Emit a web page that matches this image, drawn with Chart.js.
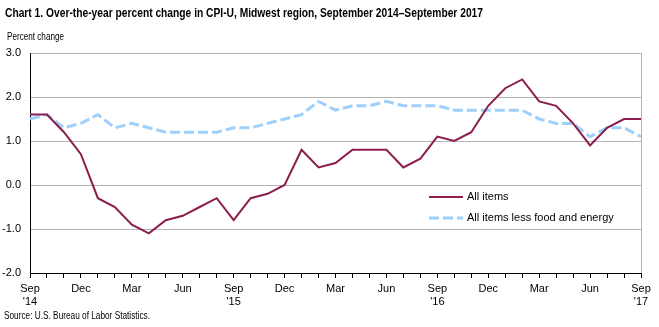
<!DOCTYPE html>
<html>
<head>
<meta charset="utf-8">
<script src="https://cdn.jsdelivr.net/npm/chart.js@4.4.0/dist/chart.umd.min.js"></script>
<style>
  body { margin: 0; background: #fff; }
  #wrap { position: relative; width: 659px; height: 327px; overflow: hidden; }
  #wrap canvas { position: absolute; left: 0; top: 0; }
  .txt { position: absolute; white-space: nowrap; transform-origin: 0 0; font-family: "Liberation Sans", Arial, sans-serif; color: #000; }
  #title { left: 5px; top: 5px; font-size: 13px; font-weight: bold; }
  #unit { left: 7px; top: 30px; font-size: 11px; }
  #source { left: 4px; top: 309px; font-size: 11px; }
</style>
</head>
<body>
<div id="wrap">
  <canvas id="lineChart" width="659" height="327"></canvas>
  <div class="txt" id="title" data-w="478">Chart 1. Over-the-year percent change in CPI-U, Midwest region, September 2014–September 2017</div>
  <div class="txt" id="unit" data-w="57">Percent change</div>
  <div class="txt" id="source" data-w="146">Source: U.S. Bureau of Labor Statistics.</div>
</div>
<script>
const categories = [
  "Sep 2014", "Oct 2014", "Nov 2014", "Dec 2014", "Jan 2015", "Feb 2015", "Mar 2015",
  "Apr 2015", "May 2015", "Jun 2015", "Jul 2015", "Aug 2015", "Sep 2015", "Oct 2015",
  "Nov 2015", "Dec 2015", "Jan 2016", "Feb 2016", "Mar 2016", "Apr 2016", "May 2016",
  "Jun 2016", "Jul 2016", "Aug 2016", "Sep 2016", "Oct 2016", "Nov 2016", "Dec 2016",
  "Jan 2017", "Feb 2017", "Mar 2017", "Apr 2017", "May 2017", "Jun 2017", "Jul 2017",
  "Aug 2017", "Sep 2017",
];

const allItems = [
  1.6, 1.6, 1.2, 0.7, -0.3, -0.5, -0.9, -1.1, -0.8, -0.7, -0.5, -0.3, -0.8,
  -0.3, -0.2, 0.0, 0.8, 0.4, 0.5, 0.8, 0.8, 0.8, 0.4, 0.6, 1.1,
  1.0, 1.2, 1.8, 2.2, 2.4, 1.9, 1.8, 1.4, 0.9, 1.3, 1.5, 1.5,
];

const lessFoodEnergy = [
  1.5, 1.6, 1.3, 1.4, 1.6, 1.3, 1.4, 1.3, 1.2, 1.2, 1.2, 1.2, 1.3,
  1.3, 1.4, 1.5, 1.6, 1.9, 1.7, 1.8, 1.8, 1.9, 1.8, 1.8, 1.8,
  1.7, 1.7, 1.7, 1.7, 1.7, 1.5, 1.4, 1.4, 1.1, 1.3, 1.3, 1.1,
];

const yTicks = [-2, -1, 0, 1, 2, 3];
const tickMonths = ["Sep", "Dec", "Mar", "Jun"];

// squeeze the html text to the narrow look of the original
document.querySelectorAll(".txt").forEach((el) => {
  const w = el.getBoundingClientRect().width;
  el.style.transform = "scaleX(" + (parseFloat(el.dataset.w) / w) + ")";
});

const FONT = "'Liberation Sans Narrow', 'Liberation Sans', Arial, sans-serif";

// right border of the plot + legend inside the plot
const framePlugin = {
  id: "frame",
  afterDraw(chart) {
    const { ctx, chartArea } = chart;
    ctx.save();
    ctx.strokeStyle = "#b4b4b4";
    ctx.lineWidth = 1;
    ctx.beginPath();
    ctx.moveTo(Math.round(chartArea.right) + 0.5, chartArea.top);
    ctx.lineTo(Math.round(chartArea.right) + 0.5, chartArea.bottom);
    ctx.stroke();

    let y = 197;
    chart.data.datasets.forEach((ds) => {
      ctx.strokeStyle = ds.borderColor;
      ctx.lineWidth = ds.borderWidth;
      ctx.setLineDash(ds.borderDash || []);
      ctx.beginPath();
      ctx.moveTo(429, y);
      ctx.lineTo(463, y);
      ctx.stroke();
      ctx.setLineDash([]);
      ctx.fillStyle = "#000";
      ctx.font = "11px " + FONT;
      ctx.textBaseline = "middle";
      ctx.fillText(ds.label, 467, y);
      y += 21;
    });
    ctx.restore();
  },
};

const ctx = document.getElementById("lineChart").getContext("2d");

new Chart(ctx, {
  type: "line",
  data: {
    labels: categories,
    datasets: [
      {
        label: "All items",
        data: allItems,
        borderColor: "#8c1d4f",
        borderWidth: 2,
        pointRadius: 0,
        tension: 0,
      },
      {
        label: "All items less food and energy",
        data: lessFoodEnergy,
        borderColor: "#9fd0fb",
        borderWidth: 3,
        borderDash: [10, 4],
        pointRadius: 0,
        tension: 0,
      },
    ],
  },
  options: {
    responsive: false,
    animation: false,
    layout: { padding: { top: 53, right: 18, left: 0, bottom: 0 } },
    scales: {
      x: {
        offset: false,
        afterFit: (scale) => { scale.height = 54; },
        grid: {
          drawOnChartArea: false,
          drawTicks: true,
          tickLength: 5,
          color: "#000",
        },
        border: { color: "#000", width: 1 },
        ticks: {
          autoSkip: false,
          maxRotation: 0,
          padding: 4,
          color: "#000",
          font: { size: 11, family: FONT },
          callback: function (value, index) {
            const [mon, yr] = categories[index].split(" ");
            if (!tickMonths.includes(mon) || index % 3 !== 0) return "";
            return mon === "Sep" ? [mon, "'" + yr.slice(2)] : mon;
          },
        },
      },
      y: {
        min: yTicks[0],
        max: yTicks[yTicks.length - 1],
        afterFit: (scale) => { scale.width = 30; },
        afterBuildTicks: (scale) => {
          scale.ticks = yTicks.map((v) => ({ value: v }));
        },
        grid: { color: "#b4b4b4", drawTicks: false },
        border: { color: "#000", width: 1 },
        ticks: {
          padding: 9,
          color: "#000",
          font: { size: 11, family: FONT },
          callback: (v) => Number(v).toFixed(1),
        },
      },
    },
    plugins: {
      legend: { display: false },
      tooltip: { enabled: false },
    },
  },
  plugins: [framePlugin],
});
</script>
</body>
</html>
